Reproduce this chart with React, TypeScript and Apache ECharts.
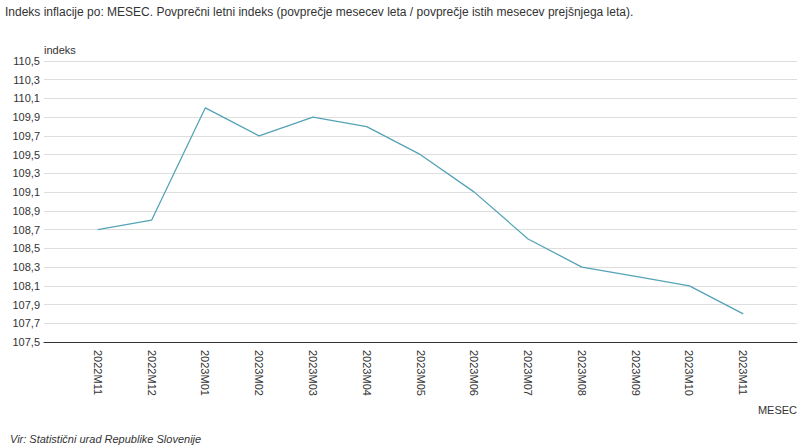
import React, { useEffect, useRef } from "react";
import * as echarts from "echarts";

const categories = ["2022M11", "2022M12", "2023M01", "2023M02", "2023M03", "2023M04", "2023M05", "2023M06", "2023M07", "2023M08", "2023M09", "2023M10", "2023M11"];
const values = [108.7, 108.8, 110.0, 109.7, 109.9, 109.8, 109.5, 109.1, 108.6, 108.3, 108.2, 108.1, 107.8];
const titleText = "Indeks inflacije po: MESEC. Povprečni letni indeks (povprečje mesecev leta / povprečje istih mesecev prejšnjega leta).";
const sourceText = "Vir: Statistični urad Republike Slovenije";

export default function App() {
  const ref = useRef<HTMLDivElement>(null);
  useEffect(() => {
    if (!ref.current) return;
    const chart = echarts.init(ref.current, null, { renderer: "svg" });
    const xData = ["", ...categories, ""];
    const yData = [null, ...values, null];
    chart.setOption({
      animation: false,
      textStyle: { fontFamily: "Liberation Sans, Arial, sans-serif" },
      title: [
        {
          text: titleText,
          left: 0,
          top: 1,
          textStyle: { fontSize: 12, fontWeight: "normal", color: "#333", fontFamily: "Liberation Sans, Arial, sans-serif" },
        },
        {
          text: sourceText,
          left: 5,
          top: 428,
          textStyle: { fontSize: 11, fontWeight: "normal", fontStyle: "italic", color: "#333", fontFamily: "Liberation Sans, Arial, sans-serif" },
        },
      ],
      grid: { left: 44, right: 9, top: 61, bottom: 106, containLabel: false },
      xAxis: {
        type: "category",
        data: xData,
        boundaryGap: false,
        name: "MESEC",
        nameLocation: "end",
        nameGap: 0,
        nameTextStyle: { fontSize: 11, color: "#333", align: "right", verticalAlign: "top", padding: [62, 0, 0, 0] },
        axisLine: { lineStyle: { color: "#333", width: 1 } },
        axisTick: { show: false },
        axisLabel: { rotate: -90, fontSize: 11, color: "#333", margin: 8, interval: 0 },
        splitLine: { show: false },
      },
      yAxis: {
        type: "value",
        min: 107.5,
        max: 110.5,
        interval: 0.2,
        name: "indeks",
        nameLocation: "end",
        nameGap: 4,
        nameTextStyle: { fontSize: 11, color: "#333", align: "left", padding: [0, 0, 0, 0] },
        axisLine: { show: false },
        axisTick: { show: false },
        axisLabel: {
          fontSize: 11,
          color: "#333",
          margin: 4,
          formatter: (v: number) => v.toFixed(1).replace(".", ","),
        },
        splitLine: { lineStyle: { color: "#dedede", width: 1 } },
      },
      series: [
        {
          type: "line",
          data: yData,
          showSymbol: false,
          symbol: "none",
          lineStyle: { color: "#55a3b6", width: 1.3 },
          connectNulls: false,
        },
      ],
    });
    return () => chart.dispose();
  }, []);
  return <div ref={ref} style={{ position: "fixed", left: 0, top: 0, width: 806, height: 448, background: "#fff" }} />;
}
